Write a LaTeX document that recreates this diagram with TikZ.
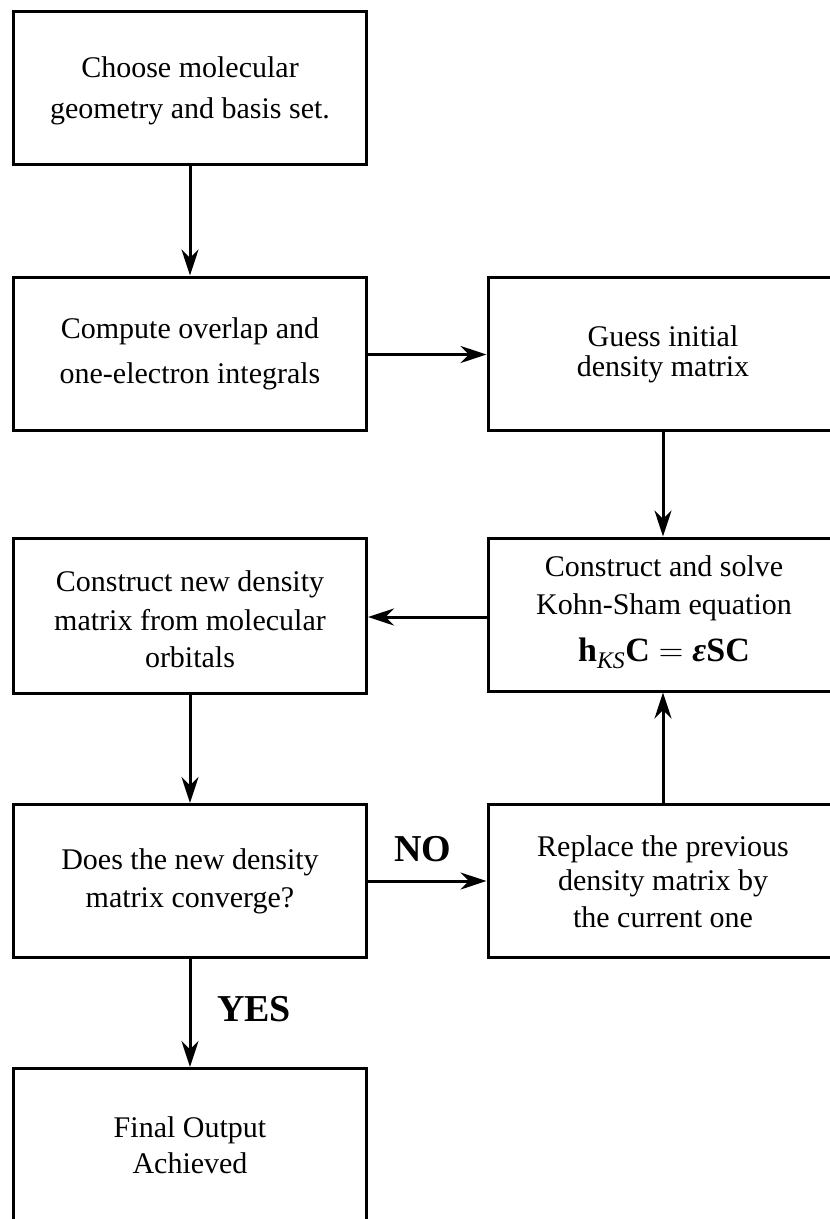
\documentclass[tikz,border=0pt]{standalone}
\usepackage{fontspec}
\setmainfont{Liberation Serif}
\newfontfamily\lmeq{Latin Modern Roman}
\usetikzlibrary{arrows.meta}
\tikzset{
  box/.style={draw, line width=3pt, minimum width=353pt, minimum height=153pt, inner sep=0pt},
  rbox/.style={box, minimum width=350pt},
  txt/.style={align=center, font=\fontsize{30}{36}\selectfont, inner sep=0pt},
  arr/.style={line width=3pt, -{Stealth[length=26pt,width=17pt]}},
  lbl/.style={font=\fontsize{38}{44}\selectfont\bfseries, inner sep=0pt}
}
\begin{document}
\begin{tikzpicture}[x=1pt,y=-1pt]
\clip (0,0) rectangle (830,1219);
% boxes
\node[box]  (b1) at (190,88) {};
\node[box]  (b2) at (190,353.5) {};
\node[rbox] (g)  at (663,353.5) {};
\node[rbox] (s)  at (663,614.5) {};
\node[box, minimum height=155pt] (n) at (190,615.5) {};
\node[box]  (d)  at (190,881) {};
\node[rbox] (r)  at (663,881) {};
\node[box, minimum height=300pt, anchor=north] (f) at (190,1067) {};
% texts
\node[txt] (t1) at (190,90.6) {Choose molecular\\[5pt]geometry and basis set.};
\node[txt] (t2) at (190,353.6) {Compute overlap and\\[9pt]one-electron integrals};
\node[txt] (tg) at (663,354.1) {Guess initial\\[-6pt]density matrix};
\node[txt] (ts) at (664,611.9) {Construct and solve\\[2pt]Kohn-Sham equation\\[11pt]{\fontsize{34}{36}\selectfont\textbf{h}\textsubscript{\textit{KS}}\textbf{C}\hspace{9pt}{\lmeq =}\hspace{9pt}\textbf{\textit{ε}SC}}};
\node[txt] (tn) at (190,618.9) {Construct new density\\[3pt]matrix from molecular\\[1pt]orbitals};
\node[txt] (td) at (190,881.1) {Does the new density\\[2pt]matrix converge?};
\node[txt] (tr) at (663,881.4) {Replace the previous\\[-2pt]density matrix by\\[1pt]the current one};
\node[txt] (tf) at (190,1144.9) {Final Output\\Achieved};
% labels
\node[lbl] (no)  at (423,849) {NO};
\node[lbl] (yes) at (254,1009) {YES};
% connectors
\draw[arr] (b1) -- (b2);
\draw[arr] ([yshift=-1pt]b2.east) -- ([yshift=-1pt]g.west);
\draw[arr] (g) -- (s);
\draw[arr] ([yshift=-2.5pt]s.west) -- ([yshift=-2.5pt]s.west -| n.east);
\draw[arr] (n) -- (d);
\draw[arr] (d) -- (r);
\draw[arr] (r) -- (s);
\draw[arr] (d.south) -- (f.north);
\end{tikzpicture}
\end{document}
